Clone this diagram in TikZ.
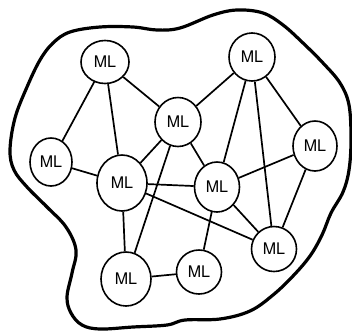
\documentclass[tikz,border=0pt]{standalone}
\usepackage{fontspec}
\setmainfont{TeX Gyre Heros}
\usepackage{tikz}
\usetikzlibrary{shapes}
\tikzstyle{ml}=[ellipse, draw, line width=1.6pt, inner sep=0pt,% one ML node
minimum width=46pt, minimum height=46pt, font=\fontsize{16}{16}\selectfont]
\tikzstyle{link}=[line width=1.7pt]
\tikzstyle{blob}=[line width=3.2pt, line join=round]

\begin{document}
\begin{tikzpicture}[x=1pt,y=-1pt]
\useasboundingbox (0,0) rectangle (352,332);
\draw[blob] plot[smooth cycle, tension=0.6] coordinates {
(10,150) (15,118) (27,87) (40,60) (53,43) (70,32) (100,27) (133,27)
(157,30) (180,28) (213,15) (237,10) (263,13) (283,25) (303,43) (323,63)
(340,83) (349,105) (351,140) (349,170) (343,192) (331,213) (322,235)
(310,256) (293,276) (273,295) (250,311) (220,319) (185,320) (167,325)
(133,327) (100,329) (82,325) (71,313) (67,297) (72,273) (76,250)
(66,227) (47,207) (27,187) (14,170)};
\node[ml, minimum width=48pt, minimum height=43pt] (a) at (105,62) {ML};
\node[ml, minimum height=48pt] (b) at (252,57) {ML};
\node[ml, minimum height=49pt] (c) at (178,122) {ML};
\node[ml, minimum width=42pt, minimum height=48pt] (d) at (51,162) {ML};
\node[ml, minimum width=50pt, minimum height=56pt] (e) at (122,183) {ML};
\node[ml, minimum width=45pt, minimum height=50pt] (f) at (217,187) {ML};
\node[ml, minimum width=44pt, minimum height=50pt] (g) at (315,146) {ML};
\node[ml, minimum width=45pt, minimum height=45pt] (h) at (274,249) {ML};
\node[ml, minimum width=50pt, minimum height=54pt] (i) at (126,279) {ML};
\node[ml, minimum width=45pt, minimum height=44pt] (j) at (199,272) {ML};
\draw[link] (a) -- (d);
\draw[link] (a) -- (e);
\draw[link] (a) -- (c);
\draw[link] (b) -- (c);
\draw[link] (b) -- (f);
\draw[link] (b) -- (h);
\draw[link] (b) -- (g);
\draw[link] (c) -- (e);
\draw[link] (c) -- (f);
\draw[link] (c) -- (i);
\draw[link] (d) -- (e);
\draw[link] (e) -- (f);
\draw[link] (e) -- (h);
\draw[link] (e) -- (i);
\draw[link] (f) -- (g);
\draw[link] (f) -- (h);
\draw[link] (f) -- (j);
\draw[link] (g) -- (h);
\draw[link] (i) -- (j);
\end{tikzpicture}
\end{document}
